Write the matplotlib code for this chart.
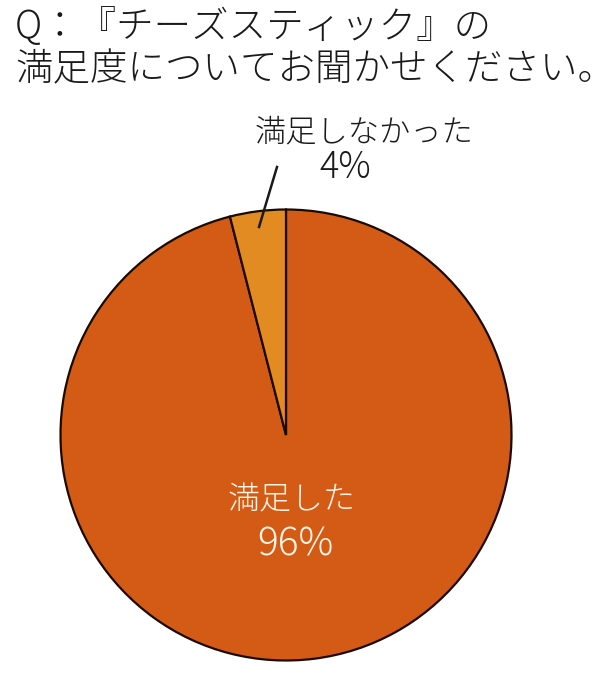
import matplotlib
matplotlib.use("Agg")
import matplotlib.pyplot as plt

plt.rcParams['font.family'] = ['Noto Sans CJK JP', 'DejaVu Sans']

categories = ["満足した", "満足しなかった"]
values = [96, 4]
pct_labels = ["96%", "4%"]
colors = ["#D45B16", "#E18B22"]
title_lines = ["Q：『チーズスティック』の", "満足度についてお聞かせください。"]

W, H = 615, 680
fig = plt.figure(figsize=(W / 100, H / 100), dpi=100)

cx, cy, r = 286, 435, 225.5
lim = 1.05
ax = fig.add_axes([(cx - r * lim) / W, (H - cy - r * lim) / H, 2 * r * lim / W, 2 * r * lim / H])

ax.pie(values, colors=colors, startangle=90, counterclock=False,
       wedgeprops=dict(edgecolor="#1a0a00", linewidth=1.6))
ax.set_xlim(-lim, lim)
ax.set_ylim(-lim, lim)
ax.set_aspect('equal')
ax.axis('off')

def d(px, py):
    return ((px - cx) / r, (cy - py) / r)

txt = dict(ha='center', va='center', fontweight='light', clip_on=False)
# inside label
x, y = d(292, 500)
ax.text(x, y, categories[0], fontsize=23, color='#FFF6E8', **txt)
x, y = d(295, 545)
ax.text(x, y, pct_labels[0], fontsize=28, color='#FFF6E8', **txt)

# outside label
x, y = d(364, 132)
ax.text(x, y, categories[1], fontsize=22.5, color='#1a1a1a', **txt)
x, y = d(345, 168)
ax.text(x, y, pct_labels[1], fontsize=26, color='#1a1a1a', **txt)

# leader line
p1 = d(277, 167)
p2 = d(259, 227)
ax.plot([p1[0], p2[0]], [p1[1], p2[1]], color='#1a1a1a', lw=1.8, clip_on=False)

fig.text(15 / W, 1 - 27 / H, title_lines[0], ha='left', va='center', fontsize=27,
         fontweight='light', color='#1a1a1a')
fig.text(15 / W, 1 - 70 / H, title_lines[1], ha='left', va='center', fontsize=27,
         fontweight='light', color='#1a1a1a')

fig.savefig("out.png", dpi=100, facecolor='white')
